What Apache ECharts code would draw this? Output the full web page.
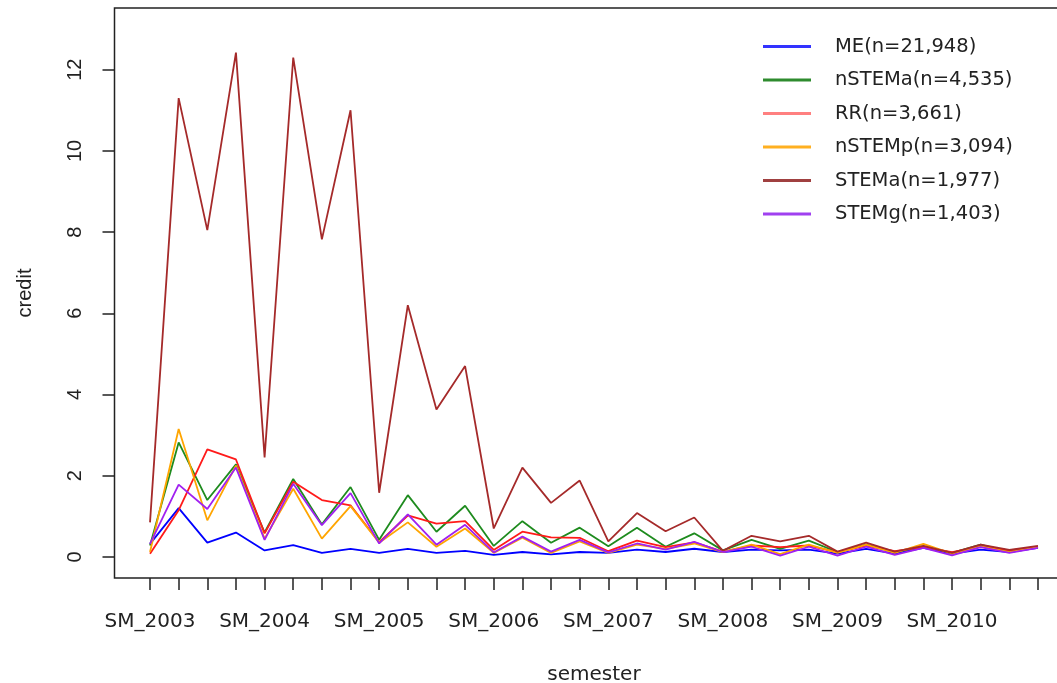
<!DOCTYPE html>
<html>
<head>
<meta charset="utf-8">
<script src="https://cdn.jsdelivr.net/npm/echarts@6/dist/echarts.min.js"></script>
<style>
html,body{margin:0;padding:0;background:#fff;}
#chart{width:1057px;height:683px;}
</style>
</head>
<body>
<div id="chart"></div>
<script>
// Categories (4 terms per year); only every 4th label is shown, as in the reference
const years = [2003, 2004, 2005, 2006, 2007, 2008, 2009, 2010];
const terms = ['SM', 'FA', 'WI', 'SP'];
const categories = [];
years.forEach(y => terms.forEach(t => categories.push(t + '_' + y)));

const yTickLabels = [0, 2, 4, 6, 8, 10, 12];

const seriesNames = ['ME(n=21,948)', 'nSTEMa(n=4,535)', 'RR(n=3,661)', 'nSTEMp(n=3,094)', 'STEMa(n=1,977)', 'STEMg(n=1,403)'];

const ME = [0.32, 1.2, 0.35, 0.6, 0.16, 0.29, 0.1, 0.2, 0.1, 0.2, 0.1, 0.15, 0.05, 0.12, 0.06, 0.12, 0.1, 0.18, 0.12, 0.2, 0.12, 0.18, 0.16, 0.18, 0.08, 0.2, 0.08, 0.22, 0.08, 0.18, 0.12, 0.22];
const nSTEMa = [0.28, 2.82, 1.4, 2.28, 0.6, 1.92, 0.8, 1.72, 0.42, 1.52, 0.62, 1.26, 0.27, 0.88, 0.35, 0.72, 0.26, 0.72, 0.25, 0.58, 0.16, 0.42, 0.2, 0.4, 0.12, 0.3, 0.12, 0.26, 0.1, 0.3, 0.12, 0.25];
const RR = [0.08, 1.15, 2.65, 2.4, 0.58, 1.85, 1.4, 1.27, 0.36, 1.02, 0.82, 0.88, 0.17, 0.62, 0.48, 0.47, 0.14, 0.4, 0.24, 0.36, 0.13, 0.28, 0.24, 0.28, 0.12, 0.28, 0.14, 0.24, 0.12, 0.25, 0.16, 0.24];
const nSTEMp = [0.12, 3.15, 0.9, 2.25, 0.45, 1.68, 0.45, 1.25, 0.35, 0.85, 0.25, 0.7, 0.1, 0.47, 0.1, 0.38, 0.1, 0.3, 0.2, 0.33, 0.12, 0.3, 0.07, 0.3, 0.1, 0.3, 0.1, 0.32, 0.08, 0.26, 0.12, 0.24];
const STEMa = [0.85, 11.3, 8.05, 12.42, 2.45, 12.3, 7.82, 11.0, 1.58, 6.2, 3.63, 4.7, 0.7, 2.2, 1.33, 1.88, 0.38, 1.08, 0.63, 0.97, 0.15, 0.52, 0.38, 0.52, 0.13, 0.35, 0.13, 0.27, 0.1, 0.3, 0.17, 0.27];
const STEMg = [0.32, 1.78, 1.18, 2.2, 0.42, 1.8, 0.78, 1.57, 0.33, 1.05, 0.3, 0.79, 0.11, 0.5, 0.13, 0.42, 0.11, 0.33, 0.18, 0.37, 0.12, 0.25, 0.03, 0.25, 0.03, 0.25, 0.05, 0.22, 0.04, 0.24, 0.1, 0.22];

const seriesValues = [ME, nSTEMa, RR, nSTEMp, STEMa, STEMg];
const lineColors = ['#0000FF', '#1E8B1E', '#FF1A1A', '#FFA500', '#A52A2A', '#A020F0'];
const legendColors = ['#3333FF', '#2E8B2E', '#FF8080', '#FFB020', '#A04040', '#A040F0'];

const FONT_H = 'DejaVu Sans, sans-serif';
const FONT_V = 'Liberation Sans, Arial, sans-serif';
const TXT = '#222';

const chart = echarts.init(document.getElementById('chart'), null, {renderer: 'canvas'});

const tickIdx = categories.map((c, i) => i);
const labelIdx = categories.map((c, i) => i).filter(i => i % 4 === 0);

chart.setOption({
  animation: false,
  backgroundColor: '#fff',
  grid: {
    left: 114.5, top: 8, width: 959, height: 570,
    outerBoundsMode: 'none',
    containLabel: false,
    show: true, borderColor: '#222', borderWidth: 1.5, backgroundColor: 'transparent'
  },
  legend: {
    orient: 'vertical',
    left: 763, top: 36.5,
    padding: 0,
    icon: 'rect',
    itemWidth: 48, itemHeight: 3,
    itemGap: 13.5,
    textStyle: {fontFamily: FONT_H, fontSize: 19.5, color: TXT, lineHeight: 20, padding: [0, 0, 0, 19]},
    data: seriesNames.map((n, i) => ({name: n, itemStyle: {color: legendColors[i]}}))
  },
  xAxis: {
    type: 'value',
    min: -1.24, max: 32.24,
    splitLine: {show: false},
    axisLine: {show: false, onZero: false},
    axisTick: {show: true, length: 12, customValues: tickIdx, lineStyle: {color: '#222', width: 1.5}},
    axisLabel: {
      customValues: labelIdx,
      formatter: v => categories[Math.round(v)] || '',
      margin: 34, fontFamily: FONT_H, fontSize: 20, color: TXT
    },
    name: 'semester',
    nameLocation: 'middle',
    nameGap: 97,
    nameTextStyle: {fontFamily: FONT_H, fontSize: 20, color: TXT, verticalAlign: 'middle'}
  },
  yAxis: {
    type: 'value',
    min: -0.52, max: 13.52,
    splitLine: {show: false},
    axisLine: {show: false, onZero: false},
    axisTick: {show: true, length: 12, customValues: yTickLabels, lineStyle: {color: '#222', width: 1.5}},
    axisLabel: {
      customValues: yTickLabels,
      rotate: 90,
      margin: 29, fontFamily: FONT_V, fontSize: 20, color: TXT
    },
    name: 'credit',
    nameLocation: 'middle',
    nameGap: 79,
    nameTextStyle: {fontFamily: FONT_V, fontSize: 20, color: TXT}
  },
  series: seriesNames.map((n, i) => ({
    name: n,
    type: 'line',
    showSymbol: false,
    symbol: 'none',
    itemStyle: {color: lineColors[i]},
    lineStyle: {color: lineColors[i], width: 1.8},
    data: seriesValues[i].map((v, k) => [k, v])
  }))
});
</script>
</body>
</html>
